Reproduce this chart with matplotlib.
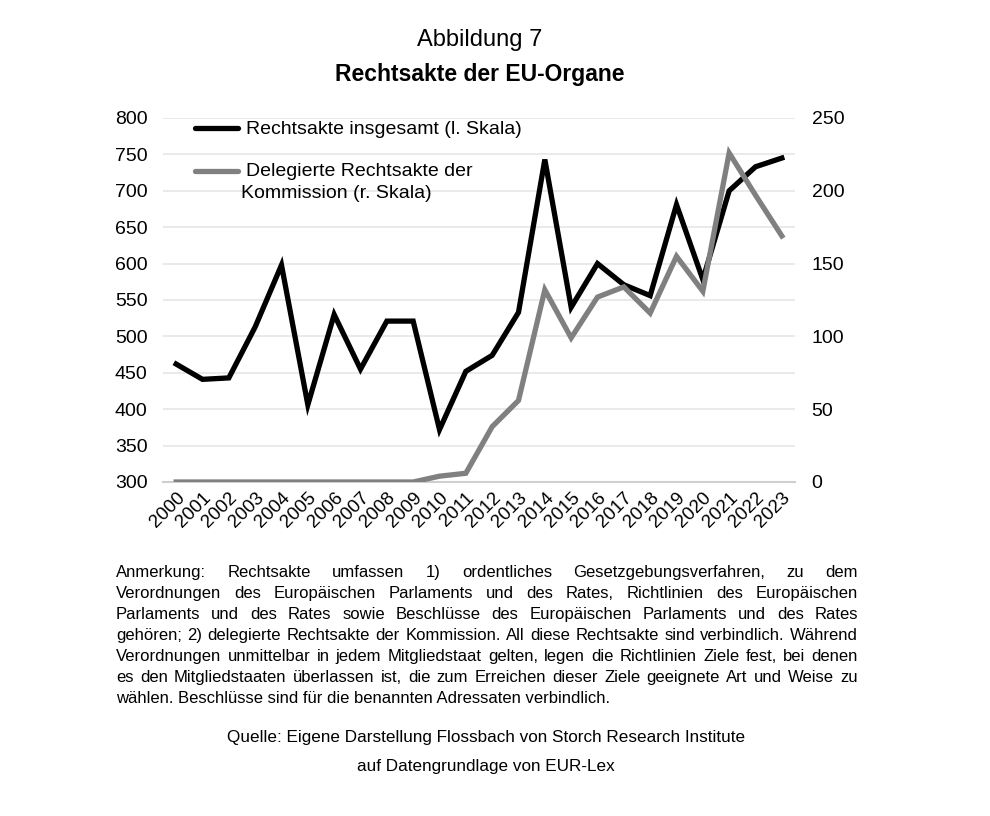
import matplotlib
matplotlib.use("Agg")
import matplotlib.pyplot as plt
from matplotlib.lines import Line2D

plt.rcParams['font.family'] = ['Liberation Sans', 'DejaVu Sans']

years = [str(y) for y in range(2000, 2024)]
total = [462, 441, 443, 513, 598, 406, 530, 455, 521, 521, 372, 452,
         474, 533, 743, 540, 600, 571, 556, 681, 578, 700, 733, 745]
delegated = [0, 0, 0, 0, 0, 0, 0, 0, 0, 0, 4, 6,
             38, 56, 132, 99, 127, 134, 116, 155, 131, 226, 197, 169]
left_ticks = list(range(300, 801, 50))
right_ticks = list(range(0, 251, 50))

title1 = "Abbildung 7"
title2 = "Rechtsakte der EU-Organe"
label_total = "Rechtsakte insgesamt (l. Skala)"
label_del_1 = "Delegierte Rechtsakte der"
label_del_2 = "Kommission (r. Skala)"
note_lines = [
    "Anmerkung: Rechtsakte umfassen 1) ordentliches Gesetzgebungsverfahren, zu dem",
    "Verordnungen des Europäischen Parlaments und des Rates, Richtlinien des Europäischen",
    "Parlaments und des Rates sowie Beschlüsse des Europäischen Parlaments und des Rates",
    "gehören; 2) delegierte Rechtsakte der Kommission. All diese Rechtsakte sind verbindlich. Während",
    "Verordnungen unmittelbar in jedem Mitgliedstaat gelten, legen die Richtlinien Ziele fest, bei denen",
    "es den Mitgliedstaaten überlassen ist, die zum Erreichen dieser Ziele geeignete Art und Weise zu",
    "wählen. Beschlüsse sind für die benannten Adressaten verbindlich.",
]
source_lines = [
    "Quelle: Eigene Darstellung Flossbach von Storch Research Institute",
    "auf Datengrundlage von EUR-Lex",
]

W, H = 990, 816
fig = plt.figure(figsize=(W / 100, H / 100), dpi=100)
ax = fig.add_axes([163 / W, 1 - 482 / H, (795 - 163) / W, (482 - 118) / H])
ax2 = ax.twinx()

BLACK = '#000000'
GRAY = '#808080'
LW = 3.8

x = list(range(len(years)))
ax.plot(x, total, color=BLACK, lw=LW, solid_joinstyle='miter', zorder=3)
ax2.plot(x, delegated, color=GRAY, lw=LW, solid_joinstyle='miter', zorder=2)

ax.set_xlim(-0.5, len(years) - 0.5)
ax.set_ylim(300, 800)
ax2.set_ylim(0, 250)
ax.set_yticks(left_ticks)
ax2.set_yticks(right_ticks)
ax.set_xticks(x)
ax.set_xticklabels(years, rotation=45, ha='right', rotation_mode='anchor', fontsize=13.5)
ax.tick_params(axis='x', length=0, pad=5)
ax.tick_params(axis='y', length=0, labelsize=14, pad=11)
ax2.tick_params(axis='y', length=0, labelsize=14, pad=12)

ax.grid(axis='y', color='#e6e6e6', lw=1.2)
ax.set_axisbelow(True)
for a in (ax, ax2):
    for s in a.spines.values():
        s.set_visible(False)
ax.spines['bottom'].set_visible(True)
ax.spines['bottom'].set_color('#cfcfcf')
ax.spines['bottom'].set_linewidth(1.5)

# legend drawn manually (pixel positions from reference)
def fx(px):
    return px / W

def fy(py):
    return 1 - py / H

fs_leg = 14
fig.add_artist(Line2D([fx(195), fx(238)], [fy(128), fy(128)], color=BLACK, lw=LW,
                      solid_capstyle='round'))
fig.text(fx(246), fy(130), label_total, ha='left', va='center', fontsize=fs_leg)
fig.add_artist(Line2D([fx(195), fx(238)], [fy(171), fy(171)], color=GRAY, lw=LW,
                      solid_capstyle='round'))
fig.text(fx(246), fy(172), label_del_1, ha='left', va='center', fontsize=fs_leg)
fig.text(fx(241), fy(194), label_del_2, ha='left', va='center', fontsize=fs_leg)

fig.text(fx(480), fy(40), title1, ha='center', va='center', fontsize=17)
fig.text(fx(480), fy(75), title2, ha='center', va='center', fontsize=16.5, fontweight='bold')

# justified note
renderer = fig.canvas.get_renderer()
x0, x1 = 116, 858
fs = 12
for i, line in enumerate(note_lines):
    yy = fy(577 + 21 * i)
    words = line.split(' ')
    if i == len(note_lines) - 1:
        fig.text(fx(x0), yy, line, ha='left', va='baseline', fontsize=fs)
        continue
    texts = [fig.text(0, yy, w, ha='left', va='baseline', fontsize=fs) for w in words]
    widths = [t.get_window_extent(renderer).width for t in texts]
    gap = (x1 - x0 - sum(widths)) / (len(words) - 1)
    pos = x0
    for t, w in zip(texts, widths):
        t.set_x(fx(pos))
        pos += w + gap

fig.text(fx(486), fy(742), source_lines[0], ha='center', va='baseline', fontsize=12.3)
fig.text(fx(486), fy(771), source_lines[1], ha='center', va='baseline', fontsize=12.3)

fig.savefig('out.png', dpi=100)
